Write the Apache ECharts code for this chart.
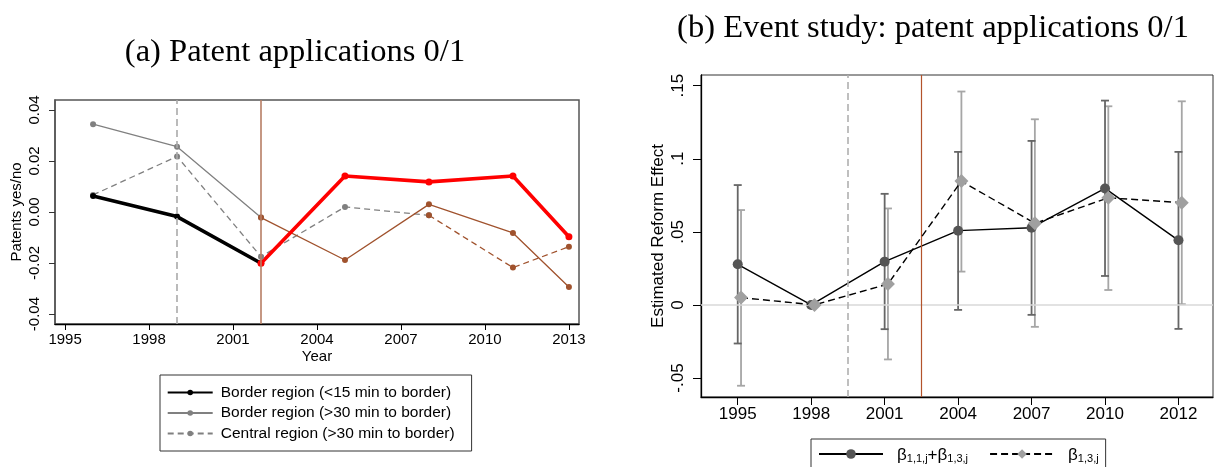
<!DOCTYPE html>
<html><head><meta charset="utf-8">
<script src="https://cdn.jsdelivr.net/npm/echarts@6/dist/echarts.min.js"></script>
<style>html,body{margin:0;padding:0;background:#fff}#c{width:1214px;height:467px}</style>
</head><body><div id="c"></div>
<script>
// ---------- Panel (a) data ----------
const yearsA = [1996, 1999, 2002, 2005, 2008, 2011, 2013];
const border15 = [0.0063, -0.0018, -0.0201, 0.0141, 0.0118, 0.0141, -0.0097];
const border30 = [0.0344, 0.0256, -0.0022, -0.0188, 0.0030, -0.0082, -0.0294];
const central  = [0.0067, 0.0218, -0.0175, 0.0020, -0.0013, -0.0218, -0.0136];
const switchBorder15 = 2, switchBorder30 = 2, switchCentral = 4;
const xTicksA = [1995, 1998, 2001, 2004, 2007, 2010, 2013];
const yTicksA = [-0.04, -0.02, 0, 0.02, 0.04];
const refLinesA = [1999, 2002];
const legendA = ['Border region (<15 min to border)', 'Border region (>30 min to border)', 'Central region (>30 min to border)'];

// ---------- Panel (b) data ----------
const catsB = ['1995', '1998', '2001', '2004', '2007', '2010', '2012'];
const effB   = [0.0278, 0, 0.0296, 0.0508, 0.0528, 0.0797, 0.0442];
const effBLo = [-0.0264, null, -0.0166, -0.0034, -0.0068, 0.0198, -0.0164];
const effBHi = [0.0820, null, 0.0760, 0.1047, 0.1122, 0.1398, 0.1047];
const b13    = [0.0050, 0, 0.0143, 0.0847, 0.0558, 0.0733, 0.0699];
const b13Lo  = [-0.0553, null, -0.0373, 0.0228, -0.0150, 0.0102, 0.0005];
const b13Hi  = [0.0649, null, 0.0660, 0.1460, 0.1270, 0.1359, 0.1393];
const yTicksB = [-0.05, 0, 0.05, 0.1, 0.15];
const yTickLabelsB = ['-.05', '0', '.05', '.1', '.15'];
const refLinesB = [1.5, 2.5];

const SANS = 'Liberation Sans, Arial, sans-serif';
const SERIF = 'Liberation Serif, Times New Roman, serif';

function pre(vals, k) { return yearsA.slice(0, k + 1).map((y, i) => [y, vals[i]]); }
function post(vals, k) { return yearsA.slice(k).map((y, i) => [y, vals[i + k]]); }

function lineA(name, data, color, width, dashed, size) {
  return {
    type: 'line', name: name, xAxisIndex: 0, yAxisIndex: 0, data: data,
    symbol: 'circle', symbolSize: size, showSymbol: true,
    lineStyle: { color: color, width: width, type: dashed ? [6, 4] : 'solid' },
    itemStyle: { color: color }, z: 3
  };
}

const offB = 0.045;
function errSeries(lo, hi, off, color) {
  return {
    type: 'custom', xAxisIndex: 1, yAxisIndex: 1, z: 2, silent: true,
    data: catsB.map((c, i) => lo[i] == null ? null : [i + off, lo[i], hi[i]]).filter(d => d),
    encode: { x: 0, y: [1, 2] },
    renderItem: function (params, api) {
      const x = api.value(0);
      const p1 = api.coord([x, api.value(1)]);
      const p2 = api.coord([x, api.value(2)]);
      const w = 4;
      const st = { stroke: color, lineWidth: 1.8 };
      return {
        type: 'group', children: [
          { type: 'line', shape: { x1: p1[0], y1: p1[1], x2: p2[0], y2: p2[1] }, style: st },
          { type: 'line', shape: { x1: p1[0] - w, y1: p1[1], x2: p1[0] + w, y2: p1[1] }, style: st },
          { type: 'line', shape: { x1: p2[0] - w, y1: p2[1], x2: p2[0] + w, y2: p2[1] }, style: st }
        ]
      };
    }
  };
}

function labelB(v) {
  for (let i = 0; i < yTicksB.length; i++) if (Math.abs(yTicksB[i] - v) < 1e-9) return yTickLabelsB[i];
  return '';
}

const legendNamesB = { b1: '{b|β}{s|1,1,j}{b|+β}{s|1,3,j}', b2: '{b|β}{s|1,3,j}' };

const option = {
  animation: false,
  backgroundColor: '#fff',
  title: [
    { text: '(a) Patent applications 0/1', left: 290, top: 30.5, textAlign: 'center',
      textStyle: { fontFamily: SERIF, fontSize: 32.5, fontWeight: 'normal', color: '#000' } },
    { text: '(b) Event study: patent applications 0/1', left: 928, top: 6.5, textAlign: 'center',
      textStyle: { fontFamily: SERIF, fontSize: 32.5, fontWeight: 'normal', color: '#000' } }
  ],
  legend: [
    {
      data: legendA, orient: 'vertical', left: 160, top: 375,
      itemWidth: 45, itemHeight: 7, itemGap: 4.5,
      padding: [9.5, 17, 9.5, 6.7],
      borderColor: '#333', borderWidth: 1,
      textStyle: { fontFamily: SANS, fontSize: 15.5, color: '#000', lineHeight: 15, padding: [0, 0, 0, 3] },
      selectedMode: false
    },
    {
      data: ['b1', 'b2'], orient: 'horizontal', left: 811, top: 439,
      itemWidth: 64, itemHeight: 12, itemGap: 21,
      padding: [8, 7, 12, 7],
      borderColor: '#333', borderWidth: 1,
      formatter: n => legendNamesB[n],
      textStyle: {
        fontFamily: SANS, color: '#000', padding: [0, 0, 0, 9],
        rich: {
          b: { fontFamily: SANS, fontSize: 17, color: '#000', verticalAlign: 'bottom', lineHeight: 20 },
          s: { fontFamily: SANS, fontSize: 11, color: '#000', verticalAlign: 'bottom', lineHeight: 14 }
        }
      },
      selectedMode: false
    }
  ],
  grid: [
    { left: 55, top: 100, width: 524, height: 224, show: true, borderColor: '#555', borderWidth: 1.5 },
    { left: 701, top: 75, width: 512, height: 322, show: true, borderColor: '#333', borderWidth: 1 }
  ],
  xAxis: [
    {
      type: 'value', gridIndex: 0, min: 1994.64, max: 2013.36,
      axisLine: { show: true, onZero: false, lineStyle: { color: '#000', width: 1.3 } },
      axisTick: { show: true, length: 6, customValues: xTicksA, lineStyle: { color: '#000' } },
      axisLabel: { customValues: xTicksA, formatter: v => String(Math.round(v)),
        fontFamily: SANS, fontSize: 15, color: '#000', margin: 8 },
      splitLine: { show: false },
      name: 'Year', nameLocation: 'middle', nameGap: 25,
      nameTextStyle: { fontFamily: SANS, fontSize: 15, color: '#000' }
    },
    {
      type: 'value', gridIndex: 1, min: -0.5, max: 6.47,
      axisLine: { show: true, onZero: false, lineStyle: { color: '#000', width: 1.3 } },
      axisTick: { show: true, length: 8, customValues: [0, 1, 2, 3, 4, 5, 6], lineStyle: { color: '#000' } },
      axisLabel: { customValues: [0, 1, 2, 3, 4, 5, 6], formatter: v => catsB[Math.round(v)],
        fontFamily: SANS, fontSize: 17, color: '#000', margin: 9 },
      splitLine: { show: false }
    }
  ],
  yAxis: [
    {
      type: 'value', gridIndex: 0, min: -0.0439, max: 0.0439,
      axisLine: { show: true, onZero: false, lineStyle: { color: '#555', width: 1.5 } },
      axisTick: { show: true, length: 6, customValues: yTicksA, lineStyle: { color: '#333' } },
      axisLabel: { customValues: yTicksA, rotate: 90, formatter: v => v.toFixed(2),
        fontFamily: SANS, fontSize: 15, color: '#000', margin: 13 },
      splitLine: { show: false },
      name: 'Patents yes/no', nameLocation: 'middle', nameGap: 31,
      nameTextStyle: { fontFamily: SANS, fontSize: 15, color: '#000' }
    },
    {
      type: 'value', gridIndex: 1, min: -0.063, max: 0.1573,
      axisLine: { show: true, onZero: false, lineStyle: { color: '#000', width: 1.3 } },
      axisTick: { show: true, length: 8, customValues: yTicksB, lineStyle: { color: '#000' } },
      axisLabel: { customValues: yTicksB, rotate: 90, formatter: labelB,
        fontFamily: SANS, fontSize: 17, color: '#000', margin: 14 },
      splitLine: { show: false },
      name: 'Estimated Reform Effect', nameLocation: 'middle', nameGap: 34,
      nameTextStyle: { fontFamily: SANS, fontSize: 17, color: '#000' }
    }
  ],
  series: [
    {
      type: 'line', xAxisIndex: 0, yAxisIndex: 0, data: [], z: 1, silent: true,
      markLine: {
        silent: true, symbol: 'none', label: { show: false }, animation: false,
        data: [
          { xAxis: refLinesA[0], lineStyle: { color: '#aaaaaa', width: 1.6, type: [7, 4] } },
          { xAxis: refLinesA[1], lineStyle: { color: '#b77e64', width: 1.6, type: 'solid' } }
        ]
      }
    },
    lineA(legendA[2], pre(central, switchCentral), '#808080', 1.3, true, 6),
    lineA('central-post', post(central, switchCentral), '#a0522d', 1.3, true, 6),
    lineA(legendA[1], pre(border30, switchBorder30), '#808080', 1.3, false, 6),
    lineA('border30-post', post(border30, switchBorder30), '#a0522d', 1.3, false, 6),
    lineA(legendA[0], pre(border15, switchBorder15), '#000000', 3.6, false, 6),
    lineA('border15-post', post(border15, switchBorder15), '#ff0000', 3.6, false, 7),
    {
      type: 'line', xAxisIndex: 1, yAxisIndex: 1, data: [], z: 1, silent: true,
      markLine: {
        silent: true, symbol: 'none', label: { show: false }, animation: false,
        data: [
          { yAxis: 0, lineStyle: { color: '#d9d9d9', width: 1.5, type: 'solid' } },
          { xAxis: refLinesB[0], lineStyle: { color: '#b0b0b0', width: 1.6, type: [7, 4] } },
          { xAxis: refLinesB[1], lineStyle: { color: '#b3532b', width: 1.2, type: 'solid' } }
        ]
      }
    },
    errSeries(b13Lo, b13Hi, offB, '#a6a6a6'),
    errSeries(effBLo, effBHi, 0, '#666666'),
    {
      type: 'line', name: 'b1', xAxisIndex: 1, yAxisIndex: 1, z: 4,
      data: catsB.map((c, i) => [i, effB[i]]),
      symbol: 'circle', symbolSize: 10, showSymbol: true,
      lineStyle: { color: '#000', width: 1.4, type: 'solid' },
      itemStyle: { color: '#555555' }
    },
    {
      type: 'line', name: 'b2', xAxisIndex: 1, yAxisIndex: 1, z: 5,
      data: catsB.map((c, i) => [i + offB, b13[i]]),
      symbol: 'diamond', symbolSize: 14, showSymbol: true,
      lineStyle: { color: '#000', width: 1.4, type: [7, 4] },
      itemStyle: { color: '#a0a0a0' }
    }
  ]
};

const chart = echarts.init(document.getElementById('c'), null, { renderer: 'canvas' });
chart.setOption(option);
</script>
</body></html>
